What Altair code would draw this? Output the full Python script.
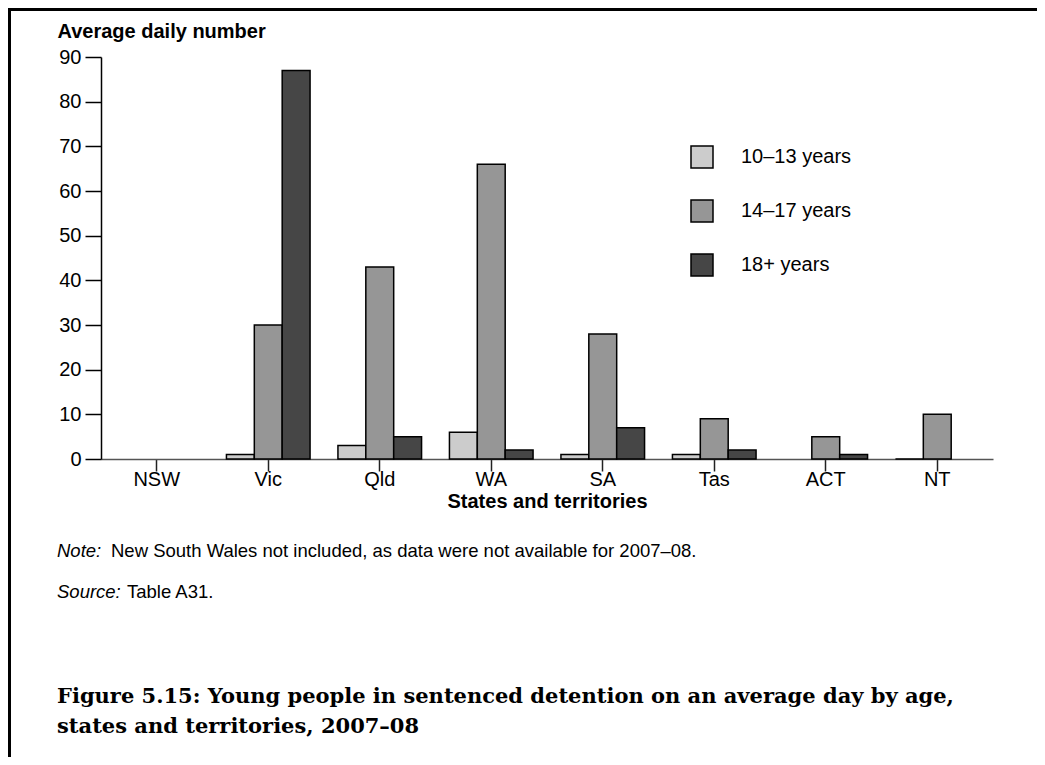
import altair as alt
import pandas as pd

states = ["NSW", "Vic", "Qld", "WA", "SA", "Tas", "ACT", "NT"]
ages = ["10–13 years", "14–17 years", "18+ years"]
age_10_13 = [None, 1, 3, 6, 1, 1, None, 0]
age_14_17 = [None, 30, 43, 66, 28, 9, 5, 10]
age_18_plus = [None, 87, 5, 2, 7, 2, 1, None]
colors = ["#cccccc", "#969696", "#464646"]
y_ticks = [0, 10, 20, 30, 40, 50, 60, 70, 80, 90]

note_label = "Note:"
note_text = "New South Wales not included, as data were not available for 2007–08."
source_label = "Source:"
source_text = "Table A31."
caption_1 = "Figure 5.15: Young people in sentenced detention on an average day by age,"
caption_2 = "states and territories, 2007–08"

rows = []
for i, s in enumerate(states):
    for a, vals in zip(ages, [age_10_13, age_14_17, age_18_plus]):
        if vals[i] is not None:
            rows.append({"state": s, "age": a, "value": vals[i]})
df = pd.DataFrame(rows)

W, H = 892, 402
PL, PT, PR, PB = 93, 49, 44, 298

SANS = "Liberation Sans, Arial, sans-serif"
SERIF = "DejaVu Serif, serif"

bars = alt.Chart(df).mark_bar(stroke="black", strokeWidth=1.5).encode(
    x=alt.X(
        "state:N",
        sort=states,
        scale=alt.Scale(domain=states, paddingInner=0.25, paddingOuter=0.125),
        axis=alt.Axis(
            title="States and territories",
            labelAngle=0,
            labelFont=SANS,
            labelFontSize=20,
            labelColor="black",
            labelPadding=-2,
            tickSize=12,
            tickColor="#222222",
            tickWidth=1.5,
            domainColor="#555555",
            domainWidth=1.5,
            titleFont=SANS,
            titleFontSize=20,
            titleFontWeight="bold",
            titleColor="black",
            titlePadding=2,
        ),
    ),
    xOffset=alt.XOffset("age:N", sort=ages, scale=alt.Scale(domain=ages)),
    y=alt.Y(
        "value:Q",
        scale=alt.Scale(domain=[0, 90], nice=False),
        axis=alt.Axis(
            values=y_ticks,
            title="Average daily number",
            titleAngle=0,
            titleAlign="left",
            titleBaseline="alphabetic",
            titleX=-44,
            titleY=-20,
            titleFont=SANS,
            titleFontSize=20,
            titleFontWeight="bold",
            titleColor="black",
            labelFont=SANS,
            labelFontSize=20,
            labelColor="black",
            labelPadding=4,
            tickSize=16,
            tickColor="black",
            tickWidth=1.5,
            domainColor="black",
            domainWidth=1.5,
            grid=False,
        ),
    ),
    color=alt.Color(
        "age:N",
        sort=ages,
        scale=alt.Scale(domain=ages, range=colors),
        legend=alt.Legend(
            title=None,
            orient="none",
            legendX=589,
            legendY=88,
            padding=0,
            symbolType="square",
            symbolSize=484,
            symbolStrokeColor="black",
            symbolStrokeWidth=1.5,
            labelFont=SANS,
            labelFontSize=20,
            labelColor="black",
            labelOffset=27,
            rowPadding=26,
        ),
    ),
)

one = pd.DataFrame({"k": [0]})

frame_top = alt.Chart(one).mark_rule(color="black", strokeWidth=3).encode(
    x=alt.value(-PL), x2=alt.value(W + PR), y=alt.value(-PT + 1.5)
)
frame_left = alt.Chart(one).mark_rule(color="black", strokeWidth=3).encode(
    x=alt.value(-PL + 1.5), y=alt.value(-PT), y2=alt.value(H + PB)
)


def text_layer(txt, x, y, font, size, style="normal", weight="normal"):
    return alt.Chart(pd.DataFrame({"t": [txt]})).mark_text(
        align="left", baseline="middle", font=font, fontSize=size,
        fontStyle=style, fontWeight=weight, color="black"
    ).encode(x=alt.value(x), y=alt.value(y), text="t:N")


layers = [
    frame_top,
    frame_left,
    bars,
    text_layer(note_label, -44, 494, SANS, 18.5, style="italic"),
    text_layer(note_text, 10, 494, SANS, 18.5),
    text_layer(source_label, -44, 535, SANS, 18.5, style="italic"),
    text_layer(source_text, 26, 535, SANS, 18.5),
    text_layer(caption_1, -44, 640, SERIF, 21, weight="bold"),
    text_layer(caption_2, -44, 670, SERIF, 21, weight="bold"),
]

chart = alt.layer(*layers).properties(
    width=W,
    height=H,
    padding={"left": PL, "top": PT, "right": PR, "bottom": PB},
    autosize=alt.AutoSizeParams(type="none"),
    background="white",
).configure_view(stroke=None)

chart.save("out.html", embed_options={"renderer": "svg", "actions": False})
